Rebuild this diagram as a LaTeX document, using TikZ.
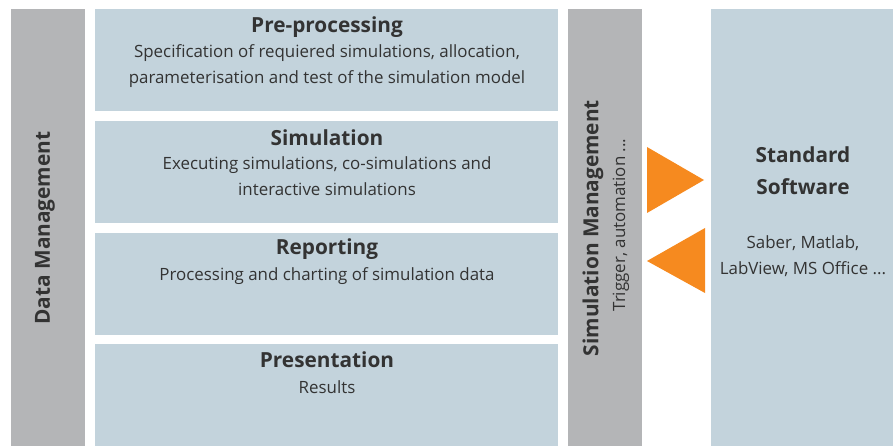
\documentclass[tikz,border=0pt]{standalone}
\usepackage{fontspec}
\setmainfont{Open Sans}
\begin{document}
\definecolor{barGray}{HTML}{B4B5B7}
\definecolor{stageBlue}{HTML}{C3D3DC}
\definecolor{arrowOrange}{HTML}{F68A1F}
\definecolor{inkGray}{HTML}{333333}
\begin{tikzpicture}[x=1pt,y=-1pt,
  panel/.style={inner sep=0pt, outer sep=0pt, anchor=north west},
  graybar/.style={panel, fill=barGray},
  bluebox/.style={panel, fill=stageBlue},
  title/.style={font=\fontsize{20.8}{32}\selectfont\bfseries, text=inkGray, inner sep=0pt},
  body/.style={font=\fontsize{16.9}{26}\selectfont, text=inkGray, align=center, inner sep=0pt},
  pointer/.style={fill=arrowOrange}]
\useasboundingbox (0,0) rectangle (893,446);
% side bars
\node[graybar, minimum width=74pt, minimum height=437pt] (dm) at (11,9) {};
\node[graybar, minimum width=74pt, minimum height=437pt] (sm) at (568,9) {};
% process stages
\node[bluebox, minimum width=463pt, minimum height=102pt] (pre) at (95,9) {};
\node[bluebox, minimum width=463pt, minimum height=102pt] (sim) at (95,121) {};
\node[bluebox, minimum width=463pt, minimum height=102pt] (rep) at (95,233) {};
\node[bluebox, minimum width=463pt, minimum height=102pt] (pres) at (95,344) {};
% external tools
\node[bluebox, minimum width=182pt, minimum height=437pt] (std) at (711,9) {};
% labels of the side bars
\node[title, rotate=90] (dmt) at (45,228) {Data Management};
\node[title, rotate=90] (smt) at (593,228) {Simulation Management};
\node[body, rotate=90] (smb) at (621,225) {Trigger, automation ...};
% stage texts
\node[title] (pret) at (327,27) {Pre-processing};
\node[body] (preb) at (327,66) {Specification of requiered simulations, allocation,\\parameterisation and test of the simulation model};
\node[title] (simt) at (327,138) {Simulation};
\node[body] (simb) at (327,176) {Executing simulations, co-simulations and\\interactive simulations};
\node[title] (rept) at (327,249) {Reporting};
\node[body] (repb) at (327,276) {Processing and charting of simulation data};
\node[title] (prest) at (327,360) {Presentation};
\node[body] (presb) at (327,387) {Results};
% standard software texts
\node[title, align=center] (stdt) at (803,171) {Standard\\Software};
\node[body] (stdb) at (803,256) {Saber, Matlab,\\LabView, MS Office ...};
% exchange pointers
\fill[pointer] (647,147) -- (704,180) -- (647,213) -- cycle;
\fill[pointer] (705,228) -- (647,261) -- (705,293) -- cycle;
\end{tikzpicture}
\end{document}
